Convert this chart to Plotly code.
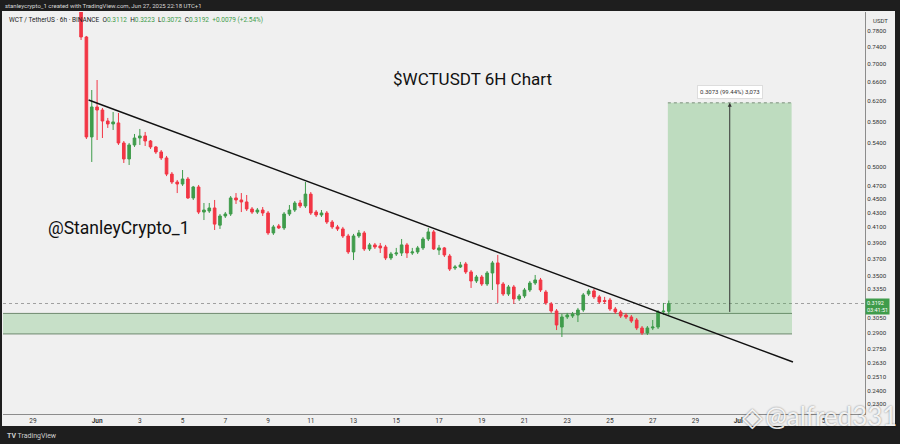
import math
import pandas as pd
import plotly.graph_objects as go

# 6h candles, WCT/USDT (Binance)
opens = [
    0.8922, 0.7648, 0.5511, 0.6080, 0.6020, 0.5807, 0.5751, 0.5770, 0.5403, 0.5127,
    0.5368, 0.5492, 0.5529, 0.5438, 0.5333, 0.5246, 0.5144, 0.4879, 0.4754, 0.4723,
    0.4801, 0.4512, 0.4677, 0.4308, 0.4323, 0.4366, 0.4127, 0.4253, 0.4281, 0.4512,
    0.4482, 0.4453, 0.4352, 0.4308, 0.4337, 0.4295, 0.4023, 0.4116, 0.4089, 0.4281,
    0.4337, 0.4438, 0.4395, 0.4569, 0.4309, 0.4267, 0.4295, 0.4170, 0.4103, 0.4076,
    0.3983, 0.3780, 0.3983, 0.4023, 0.3817, 0.3868, 0.3855, 0.3842, 0.3706, 0.3755,
    0.3767, 0.3868, 0.3767, 0.3780, 0.3830, 0.3944, 0.4036, 0.3804, 0.3830, 0.3730,
    0.3586, 0.3598, 0.3634, 0.3540, 0.3437, 0.3482, 0.3403, 0.3528, 0.3646, 0.3403,
    0.3293, 0.3370, 0.3240, 0.3272, 0.3337, 0.3414, 0.3448, 0.3315, 0.3188, 0.3115,
    0.2955, 0.3054, 0.3064, 0.3074, 0.3125, 0.3293, 0.3326, 0.3262, 0.3224, 0.3229,
    0.3135, 0.3105, 0.3074, 0.3054, 0.3024, 0.2946, 0.2898, 0.2946, 0.2955, 0.3105,
    0.3112,
]
highs = [
    0.9372, 0.7674, 0.6428, 0.6642, 0.6060, 0.5865, 0.5981, 0.5962, 0.5438, 0.5403,
    0.5565, 0.5657, 0.5602, 0.5456, 0.5350, 0.5280, 0.5178, 0.4912, 0.4786, 0.4945,
    0.4833, 0.4693, 0.4708, 0.4438, 0.4438, 0.4482, 0.4281, 0.4309, 0.4541, 0.4585,
    0.4585, 0.4556, 0.4380, 0.4366, 0.4380, 0.4323, 0.4130, 0.4143, 0.4309, 0.4409,
    0.4467, 0.4482, 0.4754, 0.4600, 0.4337, 0.4337, 0.4323, 0.4197, 0.4130, 0.4103,
    0.4010, 0.4010, 0.4062, 0.4049, 0.3893, 0.3893, 0.3893, 0.3868, 0.3780, 0.3830,
    0.3944, 0.3893, 0.3830, 0.3855, 0.3970, 0.4089, 0.4062, 0.3868, 0.3842, 0.3755,
    0.3622, 0.3658, 0.3658, 0.3563, 0.3505, 0.3505, 0.3551, 0.3670, 0.3743, 0.3425,
    0.3392, 0.3392, 0.3293, 0.3359, 0.3437, 0.3505, 0.3471, 0.3337, 0.3208, 0.3135,
    0.3084, 0.3095, 0.3105, 0.3146, 0.3304, 0.3348, 0.3348, 0.3283, 0.3262, 0.3251,
    0.3156, 0.3125, 0.3095, 0.3074, 0.3044, 0.2965, 0.2965, 0.3024, 0.3125, 0.3198,
    0.3223,
]
lows = [
    0.7573, 0.5474, 0.5077, 0.5456, 0.5492, 0.5676, 0.5638, 0.5368, 0.5060, 0.5027,
    0.5333, 0.5368, 0.5350, 0.5298, 0.5212, 0.5110, 0.4847, 0.4723, 0.4585, 0.4693,
    0.4497, 0.4482, 0.4280, 0.4197, 0.4295, 0.4062, 0.4076, 0.4225, 0.4253, 0.4424,
    0.4308, 0.4323, 0.4281, 0.4281, 0.4253, 0.3997, 0.3997, 0.4076, 0.4062, 0.4253,
    0.4309, 0.4366, 0.4366, 0.4267, 0.4239, 0.4239, 0.4143, 0.4076, 0.4049, 0.3957,
    0.3755, 0.3681, 0.3957, 0.3792, 0.3792, 0.3817, 0.3767, 0.3681, 0.3681, 0.3730,
    0.3730, 0.3706, 0.3743, 0.3755, 0.3804, 0.3918, 0.3804, 0.3743, 0.3718, 0.3551,
    0.3563, 0.3586, 0.3517, 0.3359, 0.3414, 0.3381, 0.3381, 0.3337, 0.3198, 0.3272,
    0.3272, 0.3188, 0.3219, 0.3251, 0.3315, 0.3392, 0.3315, 0.3177, 0.3095, 0.2926,
    0.2860, 0.3034, 0.3044, 0.3004, 0.3105, 0.3272, 0.3240, 0.3188, 0.3188, 0.3115,
    0.3084, 0.3044, 0.3034, 0.2995, 0.2926, 0.2879, 0.2879, 0.2926, 0.2936, 0.3074,
    0.3072,
]
closes = [
    0.7648, 0.5511, 0.6080, 0.6020, 0.5807, 0.5751, 0.5789, 0.5403, 0.5127, 0.5368,
    0.5492, 0.5529, 0.5438, 0.5333, 0.5246, 0.5144, 0.4879, 0.4754, 0.4723, 0.4801,
    0.4512, 0.4677, 0.4308, 0.4337, 0.4366, 0.4141, 0.4253, 0.4281, 0.4512, 0.4482,
    0.4453, 0.4352, 0.4308, 0.4337, 0.4295, 0.4023, 0.4103, 0.4089, 0.4281, 0.4337,
    0.4438, 0.4395, 0.4569, 0.4295, 0.4267, 0.4295, 0.4170, 0.4103, 0.4076, 0.3983,
    0.3780, 0.3983, 0.4023, 0.3817, 0.3868, 0.3842, 0.3830, 0.3706, 0.3755, 0.3767,
    0.3868, 0.3767, 0.3780, 0.3830, 0.3944, 0.4036, 0.3817, 0.3830, 0.3743, 0.3574,
    0.3598, 0.3622, 0.3540, 0.3437, 0.3482, 0.3403, 0.3528, 0.3646, 0.3403, 0.3293,
    0.3370, 0.3240, 0.3272, 0.3337, 0.3414, 0.3448, 0.3337, 0.3198, 0.3115, 0.2975,
    0.3054, 0.3074, 0.3084, 0.3125, 0.3283, 0.3326, 0.3262, 0.3208, 0.3213, 0.3135,
    0.3105, 0.3064, 0.3054, 0.3014, 0.2946, 0.2898, 0.2946, 0.2955, 0.3105, 0.3113,
    0.3192,
]
candle_times = pd.date_range("2025-05-31 06:00", periods=len(opens), freq="6h")

# drawings
trend_times = ["2025-05-31 14:30", "2025-07-03 13:30"]
trend_prices = [0.6221, 0.2635]
zone_low = 0.2889
zone_high = 0.3090
target_price = 0.6163
box_start = "2025-06-27 17:00"
box_end = "2025-07-03 12:00"
box_mid = "2025-06-30 14:30"
last_price = 0.3192

price_ticks = [0.78, 0.74, 0.70, 0.66, 0.62, 0.58, 0.54, 0.50, 0.47, 0.45, 0.43,
               0.41, 0.39, 0.37, 0.35, 0.335, 0.305, 0.29, 0.275, 0.263, 0.251,
               0.24, 0.23]
# Jul 3 label is hidden under the watermark in the screenshot
date_ticks = ["2025-05-29", "2025-06-01", "2025-06-03", "2025-06-05", "2025-06-07",
              "2025-06-09", "2025-06-11", "2025-06-13", "2025-06-15", "2025-06-17",
              "2025-06-19", "2025-06-21", "2025-06-23", "2025-06-25", "2025-06-27",
              "2025-06-29", "2025-07-01", "2025-07-05"]
date_labels = ["29", "<b>Jun</b>", "3", "5", "7", "9", "11", "13", "15", "17",
               "19", "21", "23", "25", "27", "29", "<b>Jul</b>", "5"]

GREEN = "#3f9c4b"
RED = "#f23645"
DARK = "#1e1e1e"
BG = "#f0f0f0"
FONT = "Roboto"

W, H = 900, 444
L, R, T, B = 3, 35, 12, 30


def px_x(px):
    return (px - L) / (W - L - R)


def px_y(py):
    return (H - B - py) / (H - T - B)


fig = go.Figure()

fig.add_trace(go.Candlestick(
    x=candle_times, open=opens, high=highs, low=lows, close=closes,
    increasing=dict(line=dict(color=GREEN, width=1), fillcolor=GREEN),
    decreasing=dict(line=dict(color=RED, width=1), fillcolor=RED),
    showlegend=False, hoverinfo="skip",
))

# descending trendline
fig.add_trace(go.Scatter(
    x=trend_times, y=trend_prices, mode="lines",
    line=dict(color="#111111", width=1.5), showlegend=False, hoverinfo="skip",
))

shapes = []
# support zone
shapes.append(dict(type="rect", xref="paper", yref="y", x0=0, x1=px_x(792),
                   y0=zone_low, y1=zone_high,
                   fillcolor="rgba(76,175,80,0.25)", line_width=0, layer="below"))
for lvl in (zone_low, zone_high):
    shapes.append(dict(type="line", xref="paper", yref="y", x0=0, x1=px_x(792),
                       y0=lvl, y1=lvl, line=dict(color="#6f8a6f", width=1), layer="below"))
# long position target box
shapes.append(dict(type="rect", xref="x", yref="y", x0=box_start, x1=box_end,
                   y0=zone_high, y1=target_price,
                   fillcolor="rgba(76,175,80,0.3)", line_width=0, layer="below"))
shapes.append(dict(type="line", xref="x", yref="y", x0=box_start, x1=box_end,
                   y0=target_price, y1=target_price,
                   line=dict(color="#7c907c", width=1, dash="dot"), layer="below"))
# last price line
shapes.append(dict(type="line", xref="paper", yref="y", x0=0, x1=1,
                   y0=last_price, y1=last_price,
                   line=dict(color="#a0a0a0", width=1, dash="dot"), layer="below"))
# dark frame of the screenshot
for x0, x1, y0, y1 in [(-5, 905, -5, 11), (-5, 905, 426, 450),
                       (-5, 2, -5, 450), (895, 905, -5, 450)]:
    shapes.append(dict(type="rect", xref="paper", yref="paper",
                       x0=px_x(x0), x1=px_x(x1), y0=px_y(y1), y1=px_y(y0),
                       fillcolor=DARK, line_width=0, layer="above"))

WM_FONT = dict(color="rgba(255,255,255,0.9)", shadow="0px 0px 2px rgba(0,0,0,0.55)")

annotations = [
    dict(text="stanleycrypto_1 created with TradingView.com, Jun 27, 2025 22:18 UTC+1",
         xref="paper", yref="paper", x=px_x(3), y=px_y(5.5), xanchor="left",
         yanchor="middle", showarrow=False, font=dict(size=6, color="#d8d8d8", family=FONT)),
    dict(text=("WCT / TetherUS · 6h · BINANCE\u00a0\u00a0"
               f"O<span style='color:{GREEN}'>0.3112</span>\u00a0\u00a0"
               f"H<span style='color:{GREEN}'>0.3223</span>\u00a0\u00a0"
               f"L<span style='color:{GREEN}'>0.3072</span>\u00a0\u00a0"
               f"C<span style='color:{GREEN}'>0.3192</span>\u00a0\u00a0"
               f"<span style='color:{GREEN}'>+0.0079 (+2.54%)</span>"),
         xref="paper", yref="paper", x=px_x(7), y=px_y(19.5), xanchor="left",
         yanchor="middle", showarrow=False, font=dict(size=6.5, color="#222222", family=FONT)),
    dict(text="USDT", xref="paper", yref="paper", x=px_x(880), y=px_y(20),
         xanchor="center", yanchor="middle", showarrow=False,
         font=dict(size=6, color="#333333", family=FONT)),
    dict(text="$WCTUSDT 6H Chart", xref="paper", yref="paper", x=px_x(472), y=px_y(79),
         xanchor="center", yanchor="middle", showarrow=False,
         font=dict(size=17, color="#111111", family=FONT)),
    dict(text="@StanleyCrypto_1", xref="paper", yref="paper", x=px_x(46), y=px_y(228),
         xanchor="left", yanchor="middle", showarrow=False,
         font=dict(size=17.5, color="#111111", family=FONT)),
    # target arrow and measure label
    dict(text="", x=box_mid, y=math.log10(target_price), ax=box_mid,
         ay=math.log10(zone_high), xref="x", yref="y", axref="x", ayref="y",
         showarrow=True, arrowhead=2, arrowsize=0.8, arrowwidth=1, arrowcolor="#333333"),
    dict(text="0.3073 (99.44%) 3,073", x=box_mid, y=math.log10(target_price),
         xref="x", yref="y", yanchor="bottom", yshift=4, showarrow=False,
         bgcolor="#ffffff", bordercolor="#dddddd", borderwidth=1, borderpad=2,
         font=dict(size=6, color="#333333", family=FONT)),
    # last price tag on the axis
    dict(text="0.3192<br>03:41:51", xref="paper", yref="y", x=1, y=math.log10(last_price),
         xanchor="left", yanchor="middle", yshift=-3, showarrow=False, align="left",
         bgcolor=GREEN, borderpad=1, font=dict(size=5.5, color="#ffffff", family=FONT)),
    # watermark & footer
    dict(text="◈", xref="paper", yref="paper", x=px_x(752), y=px_y(417),
         xanchor="center", yanchor="middle", showarrow=False,
         font=dict(size=27, family="DejaVu Sans", **WM_FONT)),
    dict(text="@alfred331", xref="paper", yref="paper", x=px_x(831), y=px_y(416),
         xanchor="center", yanchor="middle", showarrow=False,
         font=dict(size=26, family="Lato", **WM_FONT)),
    dict(text="<b>TV</b> TradingView", xref="paper", yref="paper", x=px_x(5), y=px_y(436),
         xanchor="left", yanchor="middle", showarrow=False,
         font=dict(size=7, color="#cfcfcf", family=FONT)),
]

fig.update_layout(
    width=W, height=H,
    margin=dict(l=L, r=R, t=T, b=B),
    paper_bgcolor=BG, plot_bgcolor=BG,
    shapes=shapes, annotations=annotations,
    showlegend=False,
    xaxis=dict(
        type="date", range=["2025-05-27 14:20", "2025-07-06 22:24"], autorange=False,
        rangeslider=dict(visible=False),
        tickvals=date_ticks, ticktext=date_labels,
        tickfont=dict(size=6.5, color="#333333", family=FONT),
        showgrid=False, zeroline=False, showline=True, linecolor="#8c8c8c", linewidth=1,
        ticks="",
    ),
    yaxis=dict(
        type="log", side="right",
        range=[math.log10(0.2222), math.log10(0.8301)], autorange=False,
        tickvals=price_ticks, ticktext=[f"{v:.4f}" for v in price_ticks],
        tickfont=dict(size=6.2, color="#333333", family=FONT),
        showgrid=False, zeroline=False, showline=True, linecolor="#8c8c8c", linewidth=1,
        ticks="",
    ),
)

# the page's default body margin would shift the figure by 8px
fig.write_html("out.html", config={"displayModeBar": False},
               post_script="document.body.style.margin = '0';")
